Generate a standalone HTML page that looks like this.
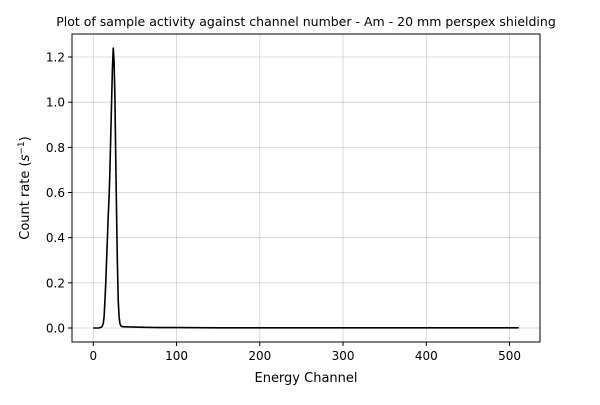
<!DOCTYPE html>
<html><head><meta charset="utf-8"><style>
body{margin:0;background:#fff;}
svg text{font-family:"DejaVu Sans","Liberation Sans",sans-serif;fill:#000;}
</style></head><body>
<svg id="chart" width="600" height="400" xmlns="http://www.w3.org/2000/svg">
<rect width="600" height="400" fill="#fff"/>
<g id="grid"></g>
<g id="series"></g>
<rect x="72" y="34" width="468" height="308" fill="none" stroke="#000" stroke-width="1"/>
<g id="ticks"></g>
<text x="306" y="26" font-size="12.5" text-anchor="middle">Plot of sample activity against channel number - Am - 20 mm perspex shielding</text>
<text x="306" y="382" font-size="13" text-anchor="middle">Energy Channel</text>
<text transform="translate(29,188) rotate(-90)" font-size="13" text-anchor="middle">Count rate (<tspan font-style="italic">s</tspan><tspan font-size="9" dy="-5">−1</tspan><tspan dy="5">)</tspan></text>
</svg>
<script>
const channels=[0,2,4,6,8,10,11,12,13,14,15,16,17,18,19,20,21,22,23,24,25,26,27,28,29,30,31,32,33,34,36,40,50,60,80,100,150,200,300,400,511];
const counts=[0,0,0,0,0.001,0.004,0.01,0.02,0.05,0.12,0.2,0.3,0.4,0.5,0.58,0.7,0.85,1.0,1.15,1.24,1.18,1.02,0.75,0.5,0.28,0.12,0.05,0.02,0.01,0.007,0.006,0.005,0.004,0.003,0.002,0.002,0.001,0.001,0.001,0.001,0.001];
const xTicks=[0,100,200,300,400,500];
const yTicks=[0,0.2,0.4,0.6,0.8,1.0,1.2];
const yTickLabels=["0.0","0.2","0.4","0.6","0.8","1.0","1.2"];
const NS="http://www.w3.org/2000/svg";
const L=72,R=540,T=34,B=342;
const xmin=-25.55,xmax=536.55,ymin=-0.062,ymax=1.302;
const X=v=>L+(v-xmin)/(xmax-xmin)*(R-L);
const Y=v=>B-(v-ymin)/(ymax-ymin)*(B-T);
function mk(tag,attrs,parent){const e=document.createElementNS(NS,tag);for(const k in attrs)e.setAttribute(k,attrs[k]);parent.appendChild(e);return e;}
const grid=document.getElementById('grid'),ticks=document.getElementById('ticks'),series=document.getElementById('series');
xTicks.forEach(t=>{
 const g=mk('line',{x1:X(t),x2:X(t),y1:T,y2:B,stroke:'#b0b0b0','stroke-width':0.8,'stroke-opacity':0.6},grid);
 
 
 const tk=mk('line',{x1:X(t),x2:X(t),y1:B,y2:B+4,stroke:'#000'},ticks);
 
 
 const tx=mk('text',{x:X(t),y:B+18,'font-size':12,'text-anchor':'middle'},ticks);
 tx.textContent=t;
 
 
});
yTicks.forEach((t,i)=>{
 const g=mk('line',{x1:L,x2:R,y1:Y(t),y2:Y(t),stroke:'#b0b0b0','stroke-width':0.8,'stroke-opacity':0.6},grid);
 
 
 const tk=mk('line',{x1:L-4,x2:L,y1:Y(t),y2:Y(t),stroke:'#000'},ticks);
 
 
 const tx=mk('text',{x:L-7,y:Y(t)+4.5,'font-size':12,'text-anchor':'end'},ticks);
 tx.textContent=yTickLabels[i];
 
 
});
const pts=channels.map((c,i)=>X(c).toFixed(2)+','+Y(counts[i]).toFixed(2)).join(' ');
const line=mk('polyline',{points:pts,fill:'none',stroke:'#000','stroke-width':1.6,'stroke-linejoin':'round'},series);


</script>
</body></html>
